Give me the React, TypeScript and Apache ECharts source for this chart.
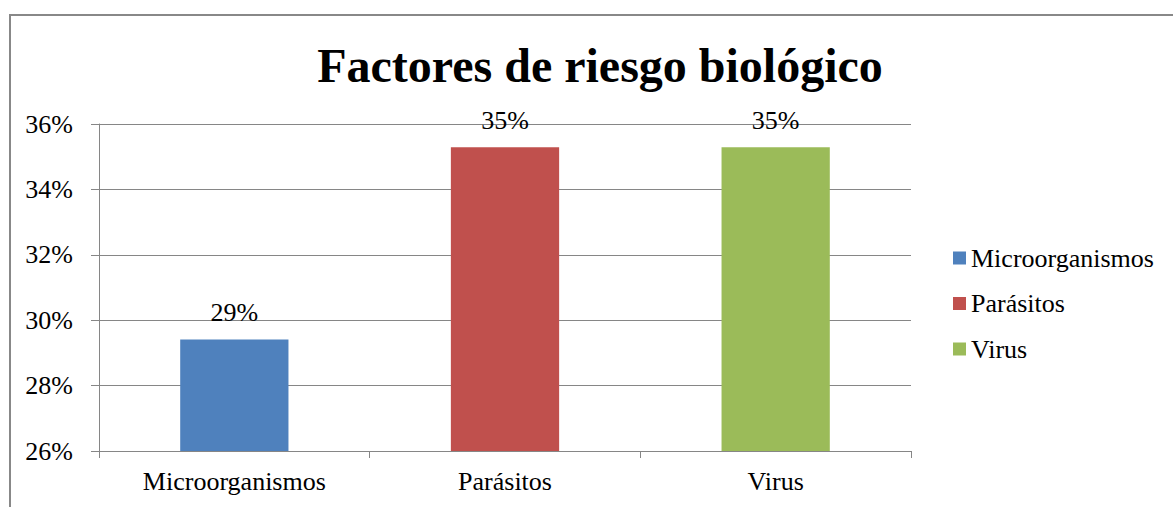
import React, { useEffect, useRef } from "react";
import * as echarts from "echarts";

const categories = ["Microorganismos", "Parásitos", "Virus"];
const seriesNames = ["Microorganismos", "Parásitos", "Virus"];
const values = [29.41, 35.29, 35.29];
const colors = ["#4F81BD", "#C0504D", "#9BBB59"];
const yMin = 26;
const yMax = 36;
const yStep = 2;
const titleText = "Factores de riesgo biológico";

const FONT = "Liberation Serif";

export default function App() {
  const ref = useRef<HTMLDivElement>(null);
  useEffect(() => {
    document.body.style.margin = "0";
    const chart = echarts.init(ref.current!, null, { renderer: "svg" });
    const series = seriesNames.map((name, i) => ({
      name,
      type: "bar",
      barWidth: "40%",
      barGap: "-100%",
      itemStyle: { color: colors[i] },
      label: {
        show: true,
        position: "top",
        distance: 14,
        color: "#000",
        fontFamily: FONT,
        fontSize: 26,
        formatter: (p: any) => Math.round(p.value) + "%",
      },
      data: categories.map((_, j) => (j === i ? values[i] : null)),
    }));
    chart.setOption({
      animation: false,
      backgroundColor: "#fff",
      textStyle: { fontFamily: FONT },
      title: {
        text: titleText,
        left: 595,
        top: 36,
        textAlign: "center",
        textStyle: { fontFamily: FONT, fontSize: 48, fontWeight: "bold", color: "#000" },
      },
      graphic: [
        {
          type: "rect",
          shape: { x: 10, y: 15, width: 1300, height: 700 },
          style: { fill: "none", stroke: "#888", lineWidth: 2 },
          silent: true,
        },
      ],
      legend: {
        orient: "vertical",
        left: 948,
        top: 238,
        padding: 5,
        itemWidth: 13,
        itemHeight: 13,
        itemGap: 15.5,
        icon: "rect",
        textStyle: { fontFamily: FONT, fontSize: 26, color: "#000", lineHeight: 30 },
        data: seriesNames,
      },
      grid: { left: 99, right: 262, top: 124, bottom: 56, containLabel: false },
      xAxis: {
        type: "category",
        data: categories,
        axisLine: { show: true, lineStyle: { color: "#868686", width: 1 } },
        axisTick: { show: true, alignWithLabel: false, length: 7, lineStyle: { color: "#868686" } },
        axisLabel: { color: "#000", fontFamily: FONT, fontSize: 26, margin: 17 },
      },
      yAxis: {
        type: "value",
        min: yMin,
        max: yMax,
        interval: yStep,
        axisLine: { show: true, lineStyle: { color: "#868686", width: 1 } },
        axisTick: { show: true, length: 8, lineStyle: { color: "#868686" } },
        splitLine: { show: true, lineStyle: { color: "#868686", width: 1 } },
        axisLabel: {
          color: "#000",
          fontFamily: FONT,
          fontSize: 26,
          margin: 26,
          formatter: (v: number) => v + "%",
        },
      },
      series,
    });
    return () => chart.dispose();
  }, []);
  return (
    <div
      ref={ref}
      style={{ position: "absolute", left: 0, top: 0, width: 1173, height: 507 }}
    />
  );
}
